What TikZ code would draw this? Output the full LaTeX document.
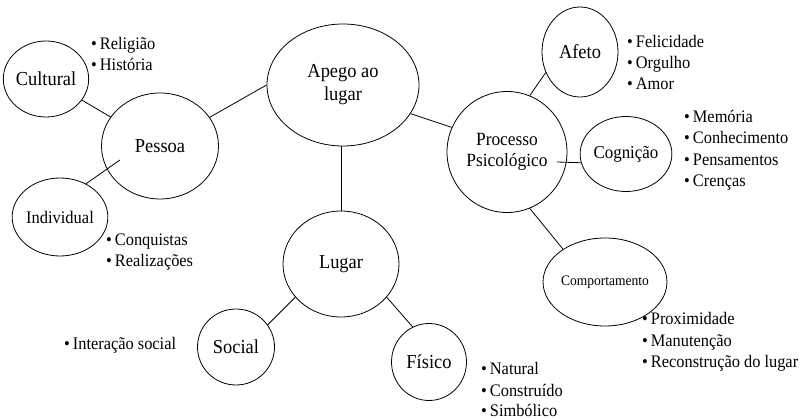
\documentclass[tikz,border=0pt]{standalone}
\usepackage{fontspec}
\setmainfont[FakeStretch=0.93]{Liberation Serif}
\usetikzlibrary{shapes.geometric}
\begin{document}
\begin{tikzpicture}[x=1pt,y=-1pt,
  bub/.style={draw, ellipse, inner sep=0pt, line width=0.8pt, align=center,
    font=\fontsize{19.8}{23}\selectfont},
  itm/.style={anchor=base west, inner sep=0pt, font=\fontsize{17.6}{20}\selectfont},
  con/.style={line width=0.8pt}]
\useasboundingbox (0,0) rectangle (806,419);
% bubbles
\node[bub, minimum width=78pt, minimum height=76pt] (cul) at (46,79) {Cultural};
\node[bub, minimum width=117pt, minimum height=106pt] (pes) at (160,146) {Pessoa};
\node[bub, minimum width=152pt, minimum height=122pt] (ape) at (343,85) {Apego ao\\lugar};
\node[bub, minimum width=76pt, minimum height=78pt, font=\fontsize{17.7}{20}\selectfont] (ind) at (60,217) {Individual};
\node[bub, minimum width=116pt, minimum height=106pt] (lug) at (341,264) {Lugar};
\node[bub, minimum width=77pt, minimum height=76pt] (soc) at (236,347) {Social};
\node[bub, minimum width=75pt, minimum height=77pt] (fis) at (429,362) {Físico};
\node[bub, minimum width=120pt, minimum height=121pt, font=\fontsize{18.7}{20.5}\selectfont] (pro) at (507,152) {Processo\\Psicológico};
\node[bub, minimum width=76pt, minimum height=90pt] (afe) at (580,52) {Afeto};
\node[bub, minimum width=82pt, minimum height=75pt, font=\fontsize{18.2}{20}\selectfont] (cog) at (626,154) {Cognição};
\node[bub, minimum width=96pt, minimum height=88pt, font=\fontsize{14.5}{16}\selectfont] (com) at (605,282) {Comportamento};
% bullet texts
\node[itm] (c1) at (91,50) {•\kern3pt Religião};
\node[itm] (c2) at (91,71) {•\kern3pt História};
\node[itm] (a1) at (627,48) {•\kern3pt Felicidade};
\node[itm] (a2) at (627,69) {•\kern3pt Orgulho};
\node[itm] (a3) at (627,90) {•\kern3pt Amor};
\node[itm] (g1) at (684,123) {•\kern3pt Memória};
\node[itm] (g2) at (684,144) {•\kern3pt Conhecimento};
\node[itm] (g3) at (684,166) {•\kern3pt Pensamentos};
\node[itm] (g4) at (684,187) {•\kern3pt Crenças};
\node[itm] (i1) at (106,246) {•\kern3pt Conquistas};
\node[itm] (i2) at (106,267) {•\kern3pt Realizações};
\node[itm] (s1) at (64,350) {•\kern3pt Interação social};
\node[itm] (f1) at (481,375) {•\kern3pt Natural};
\node[itm] (f2) at (481,397) {•\kern3pt Construído};
\node[itm] (f3) at (481,416.5) {•\kern3pt Simbólico};
\node[itm] (p1) at (642,325) {•\kern3pt Proximidade};
\node[itm] (p2) at (642,347) {•\kern3pt Manutenção};
\node[itm] (p3) at (642,368) {•\kern3pt Reconstrução do lugar};
% connectors
\coordinate (pin) at (120,160);
\coordinate (pcin) at (557,162);
\draw[con] (cul) -- (pes);
\draw[con] (pes.30) -- (ape.west);
\draw[con] (ind.52) -- (pin);
\draw[con] (lug.north |- ape.south) -- (lug.north);
\draw[con] (ape.-23) -- (pro.156);
\draw[con] (pro.68) -- (afe.-149);
\draw[con] (pcin) -- (cog.191);
\draw[con] (pro.-68) -- (com.142);
\draw[con] (lug.-144) -- (soc.35);
\draw[con] (lug.-36) -- (fis.115);
\end{tikzpicture}
\end{document}
